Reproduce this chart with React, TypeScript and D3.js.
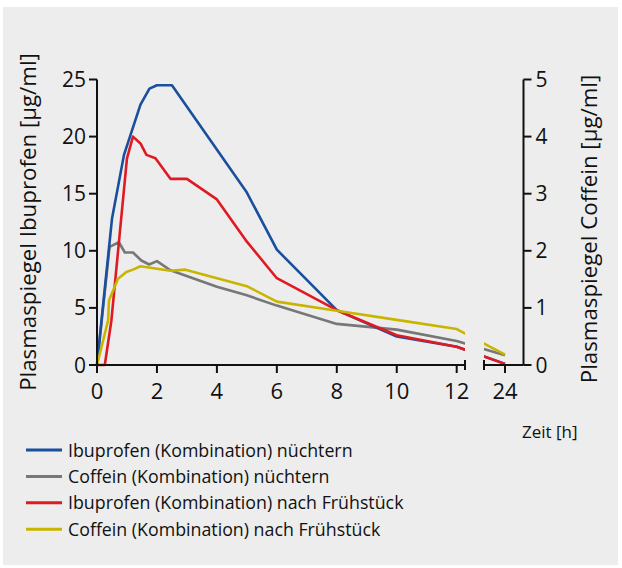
import React from "react";
import * as d3 from "d3";

// Zeit [h] und Messwerte je Kurve
const ibuNuechternH = [0, 0.15, 0.5, 0.9, 1.45, 1.75, 2, 2.5, 5, 6, 8, 10, 12, 24];
const ibuNuechternV = [0, 3.9, 12.8, 18.4, 22.8, 24.2, 24.5, 24.5, 15.1, 10.1, 4.8, 2.5, 1.6, 0.1];

const cofNuechternH = [0, 0.42, 0.73, 0.93, 1.2, 1.48, 1.74, 2, 2.45, 4, 5, 6, 8, 10, 12, 24];
const cofNuechternV = [0, 2.07, 2.15, 1.97, 1.97, 1.83, 1.76, 1.82, 1.66, 1.37, 1.22, 1.04, 0.72, 0.62, 0.42, 0.17];

const ibuFruehH = [0, 0.26, 0.48, 1.0, 1.2, 1.45, 1.65, 1.95, 2.45, 3, 4, 5, 6, 8, 10, 12, 24];
const ibuFruehV = [0, 0, 3.9, 18.1, 20.0, 19.4, 18.4, 18.1, 16.3, 16.3, 14.5, 10.8, 7.6, 4.8, 2.6, 1.6, 0.1];

const cofFruehH = [0, 0.37, 0.4, 0.7, 0.98, 1.2, 1.45, 2.45, 2.95, 5, 6, 8, 10, 12, 24];
const cofFruehV = [0, 0.78, 1.13, 1.51, 1.63, 1.67, 1.73, 1.65, 1.67, 1.38, 1.11, 0.95, 0.79, 0.63, 0.18];

const legendLabels = [
  "Ibuprofen (Kombination) nüchtern",
  "Coffein (Kombination) nüchtern",
  "Ibuprofen (Kombination) nach Frühstück",
  "Coffein (Kombination) nach Frühstück",
];
const legendColors = ["#1a4f9e", "#777777", "#e01a22", "#c9b500"];

const xTicks = [0, 2, 4, 6, 8, 10, 12, 24];
const leftTicks = [0, 5, 10, 15, 20, 25];
const rightTicks = [0, 1, 2, 3, 4, 5];

const font = "'Open Sans', sans-serif";

const App = () => {
  const W = 622, H = 568;
  const left = 97, right = 523.5, top = 79.5, bottom = 365;

  const x = d3.scaleLinear().domain([0, 12, 24]).range([left, 456.7, 505]);
  const yL = d3.scaleLinear().domain([0, 25]).range([bottom, top]);
  const yR = d3.scaleLinear().domain([0, 5]).range([bottom, top]);

  const breakA = x(12) + 8.3;
  const breakB = x(24) - 21;

  const lineL = d3.line<[number, number]>().x(d => x(d[0])).y(d => yL(d[1]));
  const lineR = d3.line<[number, number]>().x(d => x(d[0])).y(d => yR(d[1]));
  const pts = (h: number[], v: number[]) => h.map((t, i) => [t, v[i]] as [number, number]);

  // Zeichenreihenfolge: grau, blau, rot, gelb
  const series = [
    { d: lineR(pts(cofNuechternH, cofNuechternV)), c: legendColors[1] },
    { d: lineL(pts(ibuNuechternH, ibuNuechternV)), c: legendColors[0] },
    { d: lineL(pts(ibuFruehH, ibuFruehV)), c: legendColors[2] },
    { d: lineR(pts(cofFruehH, cofFruehV)), c: legendColors[3] },
  ];

  const axisStroke = "#111";
  const tick = 8;

  return (
    <svg width={W} height={H} style={{ position: "absolute", left: 0, top: 0 }}>
      <rect x={3} y={7} width={615} height={558} fill="#ededed" />
      <defs>
        <clipPath id="brk">
          <rect x={0} y={0} width={breakA} height={H} />
          <rect x={breakB} y={0} width={W - breakB} height={H} />
        </clipPath>
      </defs>

      {/* Kurven */}
      <g clipPath="url(#brk)" fill="none" strokeWidth={2.6} strokeLinejoin="round">
        {series.map((s, i) => (
          <path key={i} d={s.d || ""} stroke={s.c} />
        ))}
      </g>

      {/* x-Achse mit Bruch */}
      <g stroke={axisStroke} strokeWidth={2}>
        <line x1={left} x2={breakA} y1={bottom} y2={bottom} />
        <line x1={breakB} x2={right} y1={bottom} y2={bottom} />
        <line x1={breakA} x2={breakA} y1={bottom - 5} y2={bottom + 5} />
        <line x1={breakB} x2={breakB} y1={bottom - 5} y2={bottom + 5} />
        {xTicks.map(t => (
          <line key={t} x1={x(t)} x2={x(t)} y1={bottom} y2={bottom + tick} />
        ))}
        <line x1={left} x2={left} y1={top} y2={bottom} />
        {leftTicks.map(t => (
          <line key={t} x1={left - tick} x2={left} y1={yL(t)} y2={yL(t)} />
        ))}
        <line x1={right} x2={right} y1={top} y2={bottom} />
        {rightTicks.map(t => (
          <line key={t} x1={right} x2={right + tick} y1={yR(t)} y2={yR(t)} />
        ))}
      </g>

      <g fontFamily={font} fill="#111">
        {xTicks.map(t => (
          <text key={t} x={x(t)} y={bottom + 34} fontSize={22} textAnchor="middle">{t}</text>
        ))}
        {leftTicks.map(t => (
          <text key={t} x={left - 11} y={yL(t) + 7.5} fontSize={21} textAnchor="end">{t}</text>
        ))}
        {rightTicks.map(t => (
          <text key={t} x={right + 12} y={yR(t) + 7.5} fontSize={21} textAnchor="start">{t}</text>
        ))}
        <text transform="translate(36,222) rotate(-90)" fontSize={22.3} textAnchor="middle">
          Plasmaspiegel Ibuprofen [µg/ml]
        </text>
        <text transform="translate(597,229) rotate(-90)" fontSize={22.3} textAnchor="middle">
          Plasmaspiegel Coffein [µg/ml]
        </text>
        <text x={522} y={438} fontSize={17}>Zeit [h]</text>
      </g>

      {/* Legende */}
      <g fontFamily={font}>
        {legendLabels.map((l, i) => (
          <g key={l} transform={`translate(26,${450 + i * 26.4})`}>
            <line x1={0} x2={36} y1={0} y2={0} stroke={legendColors[i]} strokeWidth={3} />
            <text x={42} y={6.5} fontSize={17.8} fill="#111">{l}</text>
          </g>
        ))}
      </g>
    </svg>
  );
};

export default App;
